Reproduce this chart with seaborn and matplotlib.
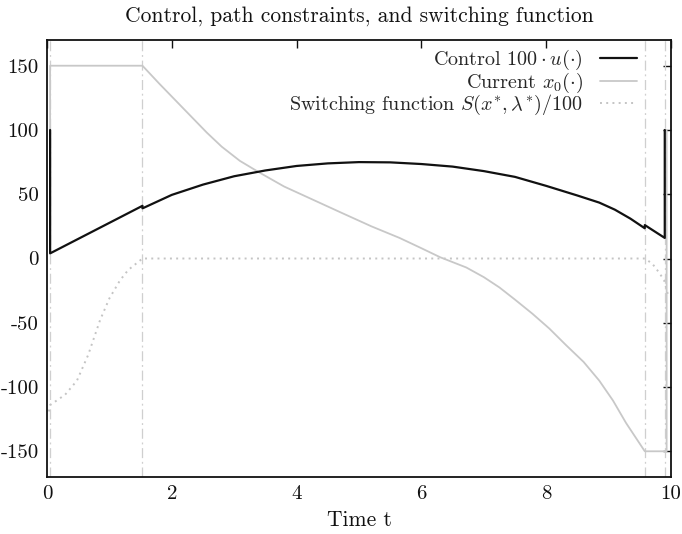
import numpy as np
import pandas as pd
import matplotlib
matplotlib.use("Agg")
import matplotlib.pyplot as plt
import seaborn as sns

# ---- data ----
ctrl_t = [0.05, 0.05, 1.53, 1.53, 2.0, 2.5, 3.0, 3.5, 4.0, 4.5, 5.0, 5.5, 6.0, 6.5,
          7.0, 7.5, 8.0, 8.5, 8.85, 9.1, 9.35, 9.58, 9.58, 9.9, 9.9]
ctrl_v = [100, 4, 41, 39, 49.5, 57.5, 64, 68.5, 72, 74, 75, 74.8, 73.5, 71.5,
          68, 63.5, 56.5, 49, 43.5, 38, 31, 23.5, 26, 16, 100]

cur_t = [0.05, 0.05, 1.53, 1.8, 2.0, 2.3, 2.56, 2.8, 3.09, 3.4, 3.8, 4.16, 4.7, 5.2,
         5.65, 6.0, 6.3, 6.72, 7.0, 7.25, 7.5, 7.78, 8.05, 8.32, 8.6, 8.85, 9.07,
         9.28, 9.58, 9.93, 9.93]
cur_v = [100, 150, 150, 136, 126, 111, 98, 87, 76, 67, 56, 48, 36, 25,
         16, 8, 1, -7, -14.5, -22.5, -32, -43, -54.5, -67.5, -80.5, -95, -110.5,
         -128, -150, -150, 100]

sw_t = [0.03, 0.05, 0.29, 0.48, 0.66, 0.85, 1.0, 1.17, 1.3, 1.53, 9.58, 9.7, 9.81, 9.89, 9.95]
sw_v = [-119, -114, -106, -95, -75, -48, -31, -17, -9, 0, 0, -4, -11, -17, -28]

vlines_t = [0.05, 1.53, 9.58, 9.9]

x_ticks = [0, 2, 4, 6, 8, 10]
y_ticks = [-150, -100, -50, 0, 50, 100, 150]
y_tick_labels = ["-150", "-100", "-50", "0", "50", "100", "150"]

title = "Control, path constraints, and switching function"
xlabel = "Time t"
labels = [r"Control $100\cdot u(\cdot)$", r"Current $x_0(\cdot)$",
          r"Switching function $S(x^{*},\lambda^{*})/100$"]

# ---- style ----
sns.set_theme(style="white")
plt.rcParams["font.family"] = ["cmr10", "DejaVu Serif"]
plt.rcParams["mathtext.fontset"] = "cm"
plt.rcParams["axes.formatter.use_mathtext"] = True
plt.rcParams["axes.unicode_minus"] = False

fig = plt.figure(figsize=(6.82, 5.34), dpi=100)
ax = fig.add_axes([47 / 682, 1 - 477 / 534, 624 / 682, 437 / 534])

for tv in vlines_t:
    ax.axvline(tv, color="#cfcfcf", lw=0.9, ls=(0, (8, 3, 1.5, 3)), zorder=1)

df_c = pd.DataFrame({"t": ctrl_t, "v": ctrl_v})
df_x = pd.DataFrame({"t": cur_t, "v": cur_v})
df_s = pd.DataFrame({"t": sw_t, "v": sw_v})

sns.lineplot(data=df_s, x="t", y="v", sort=False, estimator=None, ax=ax,
             color="#c4c4c4", lw=1.4, ls=(0, (1, 2.2)), label=labels[2], zorder=2)
sns.lineplot(data=df_x, x="t", y="v", sort=False, estimator=None, ax=ax,
             color="#c8c8c8", lw=1.3, label=labels[1], zorder=3)
sns.lineplot(data=df_c, x="t", y="v", sort=False, estimator=None, ax=ax,
             color="#111111", lw=1.6, label=labels[0], zorder=4)

ax.set_xlim(0, 10)
ax.set_ylim(-170, 170)
ax.set_xticks(x_ticks)
ax.set_xticklabels([str(v) for v in x_ticks])
ax.set_yticks(y_ticks)
ax.set_yticklabels(y_tick_labels)
ax.tick_params(direction="in", length=6, width=1, top=True, right=True,
               labelsize=15, colors="#111111", pad=6)
for sp in ax.spines.values():
    sp.set_linewidth(1.3)
    sp.set_color("#111111")

ax.set_xlabel(xlabel, fontsize=15.5, color="#111111", labelpad=5)
ax.set_ylabel("")
ax.set_title(title, fontsize=15.5, color="#111111", pad=13)

h, l = ax.get_legend_handles_labels()
order = [l.index(x) for x in labels]
leg = ax.legend([h[i] for i in order], [l[i] for i in order], loc="upper right",
                bbox_to_anchor=(0.946, 0.981), bbox_transform=ax.transAxes,
                markerfirst=False, frameon=False, fontsize=14.5, handlelength=1.85,
                labelspacing=-0.08, borderaxespad=0, borderpad=0, handletextpad=0.85)
try:
    leg._legend_box._children[-1]._children[0].align = "right"
except Exception:
    pass

fig.savefig("out.png", dpi=100)
